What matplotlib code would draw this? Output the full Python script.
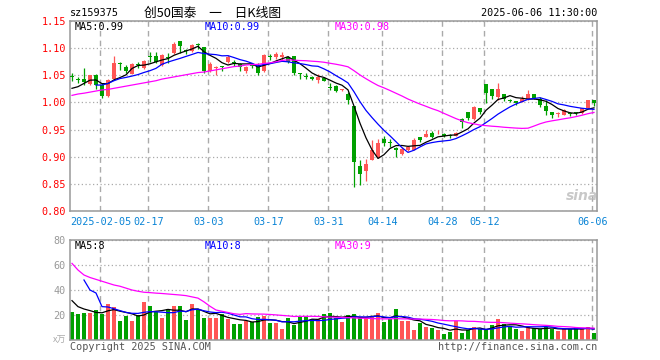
import numpy as np
import matplotlib
matplotlib.use("Agg")
import matplotlib.pyplot as plt

# ---------------- data ----------------
opens = [1.048, 1.0415, 1.044, 1.034, 1.050, 1.032, 1.012, 1.043, 1.0715, 1.066,
         1.0526, 1.0692, 1.063, 1.0835, 1.086, 1.069, 1.082, 1.091, 1.1135, 1.0945,
         1.094, 1.1065, 1.102, 1.0587, 1.063, 1.0665, 1.074, 1.0728, 1.070, 1.057,
         1.0675, 1.067, 1.057, 1.0835, 1.0845, 1.083, 1.083, 1.086, 1.0525, 1.048,
         1.0475, 1.0415, 1.0455, 1.0275, 1.031, 1.0225, 1.0157, 0.9935, 0.883, 0.874,
         0.894, 0.899, 0.932, 0.9265, 0.9165, 0.905, 0.912, 0.9125, 0.936, 0.936,
         0.9445, 0.9428, 0.942, 0.9383, 0.939, 0.970, 0.982, 0.969, 0.989, 1.034,
         1.024, 1.0096, 1.0157, 1.0036, 1.0028, 1.0004, 1.006, 1.0157, 1.0065, 0.9935,
         0.983, 0.978, 0.977, 0.981, 0.9805, 0.980, 0.989, 1.0046]
closes = [1.046, 1.041, 1.038, 1.050, 1.032, 1.012, 1.041, 1.073, 1.071, 1.057,
          1.0705, 1.0687, 1.0766, 1.083, 1.075, 1.0876, 1.0815, 1.107, 1.104, 1.094,
          1.106, 1.106, 1.057, 1.071, 1.066, 1.066, 1.0845, 1.0723, 1.066, 1.066,
          1.067, 1.055, 1.0876, 1.083, 1.089, 1.087, 1.075, 1.054, 1.052, 1.0475,
          1.043, 1.0475, 1.040, 1.027, 1.021, 1.023, 1.0046, 0.891, 0.869, 0.8865,
          0.9125, 0.925, 0.926, 0.926, 0.913, 0.9135, 0.917, 0.931, 0.930, 0.942,
          0.937, 0.9433, 0.938, 0.938, 0.9445, 0.9645, 0.972, 0.992, 0.982, 1.017,
          1.012, 1.0243, 1.006, 1.0033, 0.9985, 1.0065, 1.0157, 1.0078, 0.9955, 0.985,
          0.977, 0.9785, 0.986, 0.978, 0.980, 0.989, 1.0046, 0.9985]
highs = [1.054, 1.046, 1.063, 1.051, 1.053, 1.035, 1.043, 1.086, 1.0747, 1.069,
         1.073, 1.074, 1.078, 1.092, 1.092, 1.089, 1.091, 1.112, 1.1135, 1.098,
         1.108, 1.110, 1.103, 1.075, 1.067, 1.067, 1.088, 1.078, 1.072, 1.068,
         1.073, 1.072, 1.089, 1.089, 1.093, 1.093, 1.085, 1.086, 1.054, 1.055,
         1.048, 1.053, 1.047, 1.035, 1.033, 1.025, 1.020, 0.994, 0.894, 0.895,
         0.931, 0.932, 0.938, 0.932, 0.918, 0.917, 0.919, 0.934, 0.937, 0.949,
         0.948, 0.950, 0.943, 0.941, 0.946, 0.971, 0.983, 0.993, 0.990, 1.034,
         1.024, 1.0355, 1.016, 1.007, 1.003, 1.011, 1.022, 1.016, 1.010, 1.0046,
         0.983, 0.983, 0.987, 0.982, 0.983, 0.9895, 1.0046, 1.005]
lows = [1.040, 1.035, 1.032, 1.032, 1.024, 1.009, 1.010, 1.0415, 1.060, 1.055,
        1.052, 1.064, 1.062, 1.075, 1.072, 1.068, 1.072, 1.089, 1.0915, 1.089,
        1.092, 1.098, 1.054, 1.056, 1.050, 1.058, 1.072, 1.068, 1.058, 1.055,
        1.063, 1.0505, 1.056, 1.078, 1.080, 1.078, 1.073, 1.051, 1.0435, 1.0435,
        1.042, 1.035, 1.039, 1.022, 1.019, 1.021, 0.998, 0.845, 0.848, 0.856,
        0.894, 0.897, 0.920, 0.917, 0.900, 0.904, 0.911, 0.912, 0.928, 0.936,
        0.934, 0.941, 0.936, 0.935, 0.939, 0.953, 0.9685, 0.968, 0.979, 0.9985,
        1.007, 1.005, 1.003, 1.001, 0.995, 1.000, 1.005, 1.006, 0.992, 0.977,
        0.972, 0.973, 0.976, 0.975, 0.977, 0.978, 0.988, 0.994]
volumes = [22.4, 20.8, 21.6, 21.6, 24.0, 20.8, 28.8, 26.4, 15.2, 19.2,
           15.2, 20.0, 30.4, 27.2, 22.4, 17.6, 24.8, 27.2, 27.2, 16.0,
           28.8, 24.8, 17.6, 17.6, 17.6, 20.8, 16.8, 12.8, 12.8, 15.2,
           14.4, 18.4, 19.2, 13.6, 13.6, 8.8, 17.6, 12.0, 18.4, 18.4,
           16.8, 16.8, 20.8, 21.6, 17.6, 14.4, 20.0, 20.8, 17.6, 17.6,
           18.7, 21.6, 14.4, 16.8, 24.8, 15.2, 15.2, 8.0, 13.6, 10.4,
           9.6, 8.0, 4.8, 6.4, 15.2, 5.6, 8.0, 10.4, 8.8, 8.8,
           12.0, 16.8, 12.8, 10.4, 8.8, 7.2, 10.4, 9.6, 8.8, 10.4,
           8.8, 7.2, 8.8, 8.8, 10.4, 8.8, 10.4, 5.6]

# moving-average values before enough in-chart history exists
ma5_head = [1.026, 1.029, 1.035, 1.041]
ma10_head = [np.nan, np.nan, np.nan, np.nan, 1.032, 1.032, 1.035, 1.040, 1.044]
ma30_head = [1.013, 1.0155, 1.017, 1.019, 1.021, 1.023, 1.024, 1.026, 1.028, 1.030,
             1.032, 1.034, 1.036, 1.038, 1.040, 1.043, 1.045, 1.047, 1.049, 1.051,
             1.053, 1.055, 1.056, 1.058, 1.060, 1.062, 1.064, 1.066, 1.067]
vma5_head = [31.5, 26.7, 24.8, 23.5]
vma10_head = [np.nan, np.nan, 48.0, 40.0, 37.6, 26.7, 26.4, 25.0, 23.5]
vma30_head = [61.3, 56.0, 52.0, 50.0, 48.5, 47.0, 45.5, 44.0, 43.0, 41.5,
              40.0, 39.0, 38.2, 37.9, 37.5, 37.2, 36.8, 36.4, 36.0, 35.5,
              34.5, 33.5, 30.5, 27.0, 24.0, 23.0, 22.0, 21.0, 20.5]

date_idx = [5, 13, 23, 33, 43, 52, 62, 69, 87]
date_labels = ["2025-02-05", "02-17", "03-03", "03-17", "03-31",
               "04-14", "04-28", "05-12", "06-06"]


def moving_avg(vals, n, head):
    vals = np.asarray(vals, dtype=float)
    out = np.full(len(vals), np.nan)
    out[:len(head)] = head
    for i in range(len(head), len(vals)):
        out[i] = vals[i - n + 1:i + 1].mean()
    return out


o = np.array(opens); c = np.array(closes)
h = np.array(highs); l = np.array(lows)
v = np.array(volumes)
x = np.arange(len(c))
up = c >= o
RED, GREEN = "#ff5555", "#00a000"
cols = np.where(up, RED, GREEN)

MONO = "DejaVu Sans Mono"
CJK = ["Noto Sans CJK SC", "DejaVu Sans"]
W, H = 660, 360
fig = plt.figure(figsize=(6.6, 3.6), dpi=100)


def px(xp, yp):
    return xp / W, 1 - yp / H


ax = fig.add_axes([70 / W, 1 - 211 / H, 527 / W, 190 / H])
axv = fig.add_axes([70 / W, 1 - 340 / H, 527 / W, 100 / H])

for a in (ax, axv):
    a.set_xlim(-0.33, 87.5)
    for s in a.spines.values():
        s.set_color("#999999")
        s.set_linewidth(1.1)
    for d in date_idx:
        a.axvline(d - 0.25, color="#aaaaaa", lw=1, ls=(0, (4, 3)), zorder=0)
    a.tick_params(length=0)

# ------------- candles -------------
ax.vlines(x, l, h, colors=cols, lw=0.9, zorder=2)
body = np.maximum(np.abs(c - o), 0.0018)
ax.bar(x, body, bottom=np.minimum(o, c), width=0.8, color=cols, lw=0, zorder=3)

ax.plot(x, moving_avg(c, 5, ma5_head), color="black", lw=0.9, zorder=4)
ax.plot(x, moving_avg(c, 10, ma10_head), color="#0000ff", lw=0.9, zorder=4)
ax.plot(x, moving_avg(c, 30, ma30_head), color="#ff00ff", lw=0.9, zorder=4)

ax.set_ylim(0.80, 1.15)
ax.set_yticks(np.arange(0.80, 1.151, 0.05))
ax.set_yticklabels(["%.2f" % t for t in np.arange(0.80, 1.151, 0.05)],
                   color="#ff0000", fontfamily=MONO, fontsize=7.3)
ax.yaxis.grid(True, color="#aaaaaa", ls=(0, (1, 2)), lw=0.9)
ax.set_axisbelow(True)
ax.set_xticks([d - 0.25 for d in date_idx])
ax.set_xticklabels(date_labels, color="#0a84d6", fontfamily=MONO, fontsize=7.3)
ax.tick_params(axis="x", pad=4)
ax.tick_params(axis="y", pad=3)

# ------------- volume -------------
axv.bar(x, v, width=0.8, color=cols, lw=0, zorder=2)
axv.plot(x, moving_avg(v, 5, vma5_head), color="black", lw=0.9, zorder=4)
axv.plot(x, moving_avg(v, 10, vma10_head), color="#0000ff", lw=0.9, zorder=4)
axv.plot(x, moving_avg(v, 30, vma30_head), color="#ff00ff", lw=0.9, zorder=4)
axv.set_ylim(0, 80)
axv.set_yticks([20, 40, 60, 80])
axv.set_yticklabels(["20", "40", "60", "80"], color="#999999",
                    fontfamily=MONO, fontsize=7.3)
axv.yaxis.grid(True, color="#aaaaaa", ls=(0, (1, 2)), lw=0.9)
axv.set_axisbelow(True)
axv.set_xticks([])
axv.tick_params(axis="y", pad=3)

# ------------- texts -------------
fig.text(*px(70, 13), "sz159375", fontfamily=MONO, fontsize=7.3, va="center")
fig.text(*px(213, 13), "创50国泰\u3000一\u3000日K线图", fontfamily=CJK,
         fontsize=9.2, va="center", ha="center")
fig.text(*px(597, 13), "2025-06-06 11:30:00", fontfamily=MONO, fontsize=7.3,
         va="center", ha="right")

fig.text(*px(75, 27), "MA5:0.99", fontfamily=MONO, fontsize=7.3, va="center")
fig.text(*px(205, 27), "MA10:0.99", fontfamily=MONO, fontsize=7.3, va="center", color="#0000ff")
fig.text(*px(335, 27), "MA30:0.98", fontfamily=MONO, fontsize=7.3, va="center", color="#ff00ff")

fig.text(*px(75, 246), "MA5:8", fontfamily=MONO, fontsize=7.3, va="center")
fig.text(*px(205, 246), "MA10:8", fontfamily=MONO, fontsize=7.3, va="center", color="#0000ff")
fig.text(*px(335, 246), "MA30:9", fontfamily=MONO, fontsize=7.3, va="center", color="#ff00ff")

fig.text(*px(66, 340), "x万", fontfamily=CJK, fontsize=6.5,
         va="center", ha="right", color="#aaaaaa")
fig.text(*px(70, 347), "Copyright 2025 SINA.COM", fontfamily=MONO, fontsize=7.3,
         va="center", color="#555555")
fig.text(*px(597, 347), "http://finance.sina.com.cn", fontfamily=MONO, fontsize=7.3,
         va="center", ha="right", color="#555555")

fig.text(*px(582, 196), "sina", fontsize=10, fontweight="bold", style="italic",
         color="#bbbbbb", alpha=0.8, va="center", ha="center")

fig.savefig("out.png", dpi=100, facecolor="white")
